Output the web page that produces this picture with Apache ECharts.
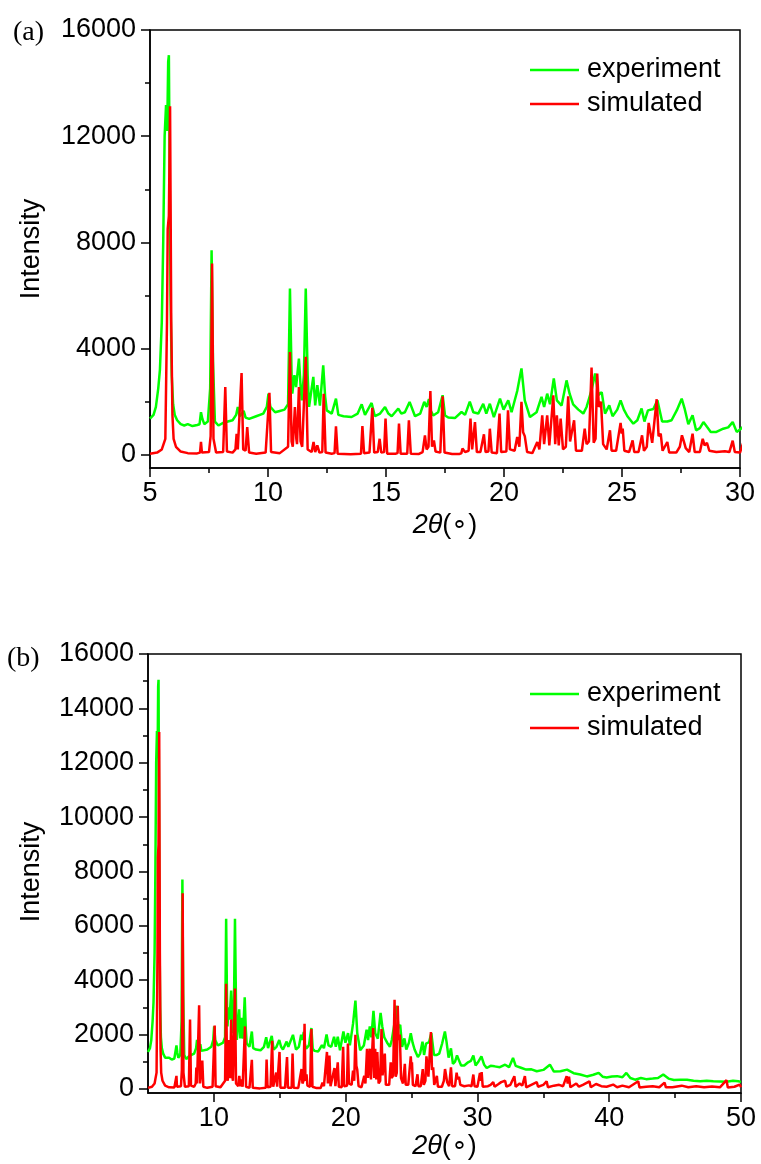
<!DOCTYPE html>
<html>
<head>
<meta charset="utf-8">
<script src="https://cdn.jsdelivr.net/npm/echarts@6/dist/echarts.min.js"></script>
<style>
html,body{margin:0;padding:0;background:#fff;}
#chart{width:761px;height:1164px;}
</style>
</head>
<body>
<div id="chart"></div>
<script>
// ---- Data ----
const seriesNames = ['experiment', 'simulated'];
const panelLabels = ['(a)', '(b)'];

const expX = [5.0,5.15,5.25,5.35,5.42,5.5,5.56,5.62,5.68,5.73,5.77,5.8,5.83,5.87,5.92,5.98,6.05,6.15,6.3,6.45,6.6,6.8,7.0,7.1,7.16,7.22,7.3,7.45,7.55,7.61,7.67,7.75,7.9,8.1,8.3,8.5,8.65,8.72,8.8,8.9,8.97,9.05,9.2,9.5,9.8,9.95,10.02,10.1,10.3,10.5,10.7,10.85,10.93,11.0,11.03,11.12,11.19,11.31,11.38,11.43,11.52,11.6,11.68,11.74,11.85,11.92,12.0,12.09,12.2,12.34,12.42,12.49,12.7,12.88,12.98,13.2,13.54,13.8,13.97,14.11,14.39,14.53,14.75,14.96,15.1,15.24,15.52,15.65,15.8,16.0,16.23,16.45,16.62,16.72,16.82,16.9,17.0,17.21,17.4,17.5,17.64,17.92,18.2,18.35,18.55,18.7,18.91,19.12,19.25,19.4,19.57,19.83,19.98,20.18,20.32,20.56,20.74,20.88,21.1,21.38,21.59,21.7,21.83,21.95,22.11,22.24,22.44,22.65,22.78,22.93,23.15,23.36,23.5,23.71,23.86,24.0,24.14,24.28,24.46,24.6,24.8,24.94,25.08,25.23,25.48,25.65,25.83,25.95,26.1,26.33,26.5,26.7,26.92,27.1,27.32,27.53,27.65,27.81,27.99,28.14,28.3,28.45,28.6,28.76,29.0,29.29,29.5,29.69,29.86,30.04,30.3,30.5,30.7,31.0,31.3,31.7,32.1,32.4,32.7,32.9,33.3,33.7,34.1,34.5,35.0,35.5,35.8,36.3,36.8,37.3,37.8,38.3,38.8,39.2,39.5,39.8,40.2,40.6,41.0,41.3,41.6,41.96,42.4,42.8,43.3,43.7,44.1,44.5,44.9,45.4,45.9,46.4,46.9,47.4,47.9,48.4,48.9,49.4,49.8,50.0];
const expY = [1360,1500,1800,2500,3200,5000,8000,12000,13170,12200,14800,15050,11000,6000,3000,1900,1500,1300,1150,1100,1150,1080,1120,1150,1600,1350,1150,1250,2500,7700,3500,1250,1100,1200,1250,1300,1500,1800,1450,1550,1650,1400,1350,1450,1550,1800,2300,1800,1600,1650,1700,1900,6260,3000,2300,3000,2550,3620,2600,2050,3000,6260,3000,1800,2500,2930,1860,2620,1850,3370,2200,1670,1550,2110,1500,1450,1420,1550,1900,1500,1950,1450,1550,1800,1550,1450,1740,1550,1600,1990,1450,1550,1990,1800,2100,1650,1480,1600,2240,1480,1400,1380,1610,1500,2000,1600,1550,1920,1550,1920,1420,2110,1700,2050,1600,2400,3250,2050,1420,1600,2180,1800,2300,1900,2870,2050,1850,2800,2300,1900,1700,1550,1800,2430,3060,2250,2360,1550,1860,1450,1700,2050,1700,1450,1170,1300,1740,1250,1670,1720,2050,1250,1250,1300,1670,2110,1750,1150,1490,920,1000,1230,1050,860,860,980,1030,1230,860,980,1200,900,770,850,830,800,890,800,1140,850,780,710,720,650,700,890,640,650,710,580,530,460,520,590,450,420,460,470,430,590,400,340,400,360,380,400,530,380,330,340,340,300,280,300,280,270,260,300,280,260];

const simX = [5.0,5.3,5.5,5.65,5.72,5.75,5.8,5.85,5.9,5.95,6.0,6.1,6.3,6.6,7.0,7.12,7.16,7.2,7.5,7.57,7.63,7.69,7.8,8.1,8.19,8.26,8.5,8.62,8.67,8.72,8.8,8.88,8.95,9.05,9.12,9.2,9.5,9.9,10.06,10.13,10.5,10.85,10.93,11.0,11.05,11.14,11.2,11.23,11.31,11.38,11.45,11.6,11.68,11.85,11.93,12.0,12.09,12.18,12.3,12.36,12.44,12.7,12.82,12.88,12.95,13.5,13.94,14.0,14.07,14.3,14.36,14.42,14.5,14.65,14.73,14.8,14.92,14.98,15.05,15.4,15.49,15.55,15.62,15.9,15.97,16.05,16.4,16.55,16.65,16.72,16.8,16.88,16.95,17.03,17.1,17.3,17.34,17.4,17.48,17.8,18.1,18.19,18.24,18.35,18.5,18.58,18.65,18.77,18.85,19.0,19.15,19.22,19.34,19.4,19.48,19.7,19.75,19.81,19.88,20.1,20.17,20.25,20.45,20.56,20.65,20.74,20.81,20.88,20.98,21.2,21.41,21.5,21.62,21.7,21.83,21.92,22.09,22.17,22.24,22.32,22.4,22.5,22.62,22.72,22.8,22.97,23.05,23.3,23.42,23.5,23.6,23.71,23.8,23.88,23.95,24.02,24.11,24.2,24.35,24.49,24.56,24.75,24.94,24.99,25.03,25.1,25.3,25.45,25.52,25.7,25.85,25.93,26.05,26.13,26.19,26.28,26.35,26.47,26.55,26.64,26.72,26.92,27.0,27.3,27.45,27.54,27.62,27.7,27.85,27.99,28.08,28.3,28.42,28.5,28.6,28.7,29.0,29.36,29.55,29.69,29.78,30.0,30.19,30.25,30.32,30.4,30.8,31.0,31.2,31.3,31.6,31.8,32.1,32.2,32.5,32.8,32.9,33.2,33.4,33.6,33.7,34.2,34.5,34.6,35.0,35.25,35.35,35.8,36.2,36.5,36.77,36.85,36.95,37.05,37.5,37.7,38.0,38.5,38.6,39.0,39.4,39.8,40.3,40.6,41.0,41.5,42.2,42.3,42.8,43.3,43.8,44.2,44.3,44.8,45.5,46.0,46.6,47.2,47.8,48.4,48.9,49.0,49.5,49.9,50.0];
const simY = [40,80,200,600,5000,8500,9000,13130,5000,1500,600,300,120,60,50,80,480,80,100,700,7200,600,80,100,2550,120,80,200,790,200,250,3080,200,150,1040,80,40,80,2330,100,60,300,3870,500,300,1800,600,400,2550,500,300,3690,200,100,480,100,350,80,100,2300,80,40,60,1070,40,20,40,1080,60,80,100,1770,80,100,600,80,100,1360,40,40,60,1170,40,40,1300,40,30,100,730,200,300,2400,300,540,120,80,100,2200,80,30,30,50,230,100,150,1360,200,1230,100,100,770,100,120,980,80,60,80,1550,100,120,1670,200,150,670,300,1990,850,700,100,60,480,200,1480,400,1480,350,2240,400,1480,350,1360,200,300,2200,500,1300,150,150,980,400,500,3280,450,600,3060,1800,2000,400,200,920,150,150,1200,800,980,150,100,540,100,100,730,150,300,1200,1150,450,500,2090,700,790,150,480,80,80,300,730,500,250,100,790,100,100,600,350,450,150,100,130,100,530,100,80,590,300,620,80,100,150,250,80,180,250,300,80,150,470,80,200,120,470,60,180,250,80,150,280,60,120,150,100,470,200,450,60,200,80,150,280,60,180,100,80,160,60,120,60,280,50,80,100,60,230,60,60,120,60,100,60,90,60,320,50,80,160,60];

// axis ticks / labels
const topYMajor = [0, 4000, 8000, 12000, 16000];
const topYMinor = [2000, 6000, 10000, 14000];
const topXMajor = [5, 10, 15, 20, 25, 30];
const topXMinor = [7.5, 12.5, 17.5, 22.5, 27.5];
const botYMajor = [0, 2000, 4000, 6000, 8000, 10000, 12000, 14000, 16000];
const botYMinor = [1000, 3000, 5000, 7000, 9000, 11000, 13000, 15000];
const botXMajor = [10, 20, 30, 40, 50];
const botXMinor = [15, 25, 35, 45];

const pairs = (xs, ys) => xs.map((x, i) => [x, ys[i]]);
const expData = pairs(expX, expY);
const simData = pairs(simX, simY);

const FONT = 'Liberation Sans, Arial, sans-serif';
const SERIF = 'Liberation Serif, Times New Roman, serif';
const GREEN = '#00ff00';
const RED = '#ff0000';
const FS = 27;

function mainAxis(dim, gridIndex, min, max, major) {
  return {
    type: 'value', gridIndex, min, max,
    position: dim === 'x' ? 'bottom' : 'left',
    axisLine: { show: true, onZero: false, lineStyle: { color: '#000', width: 1.5 } },
    axisTick: { show: true, customValues: major, length: 9, lineStyle: { color: '#000', width: 1.5 } },
    axisLabel: { show: true, customValues: major, color: '#000', fontSize: FS, fontFamily: FONT,
      margin: dim === 'x' ? 12 : 14, formatter: (v) => String(v) },
    splitLine: { show: false }
  };
}
function minorAxis(dim, gridIndex, min, max, minor) {
  return {
    type: 'value', gridIndex, min, max,
    position: dim === 'x' ? 'bottom' : 'left',
    axisLine: { show: false, onZero: false },
    axisTick: { show: true, customValues: minor, length: 5, lineStyle: { color: '#000', width: 1.5 } },
    axisLabel: { show: false },
    splitLine: { show: false }
  };
}

const xName = {
  name: '{i|2θ}{n|(∘)}',
  nameLocation: 'middle',
  nameTextStyle: {
    rich: {
      i: { fontSize: FS, fontStyle: 'italic', fontFamily: FONT, color: '#000' },
      n: { fontSize: FS, fontFamily: FONT, color: '#000' }
    }
  }
};

const xTop = Object.assign(mainAxis('x', 0, 5, 30, topXMajor), xName, { nameGap: 44 });
const xBot = Object.assign(mainAxis('x', 1, 5, 50, botXMajor), xName, { nameGap: 40 });

const lineSeries = (name, data, color, xi, yi) => ({
  name, type: 'line', data, xAxisIndex: xi, yAxisIndex: yi,
  symbol: 'none', showSymbol: false, animation: false,
  lineStyle: { color, width: 2.5 }, itemStyle: { color },
  clip: true
});

const legendCfg = (top) => ({
  left: 530, top, orient: 'vertical', padding: 0,
  data: seriesNames.map((n) => ({ name: n, icon: 'rect' })),
  itemWidth: 49, itemHeight: 2.5, itemGap: 6,
  textStyle: { fontSize: FS, lineHeight: 28, fontFamily: FONT, color: '#000', padding: [0, 0, 0, 3] },
  selectedMode: false
});

const option = {
  animation: false,
  backgroundColor: '#fff',
  grid: [
    { left: 150, right: 21, top: 30, bottom: 696, show: true, borderColor: '#000', borderWidth: 1.5, containLabel: false },
    { left: 148, right: 20, top: 654, bottom: 71, show: true, borderColor: '#000', borderWidth: 1.5, containLabel: false }
  ],
  xAxis: [
    xTop, xBot,
    minorAxis('x', 0, 5, 30, topXMinor),
    minorAxis('x', 1, 5, 50, botXMinor)
  ],
  yAxis: [
    mainAxis('y', 0, -500, 16000, topYMajor),
    mainAxis('y', 1, -150, 16000, botYMajor),
    minorAxis('y', 0, -500, 16000, topYMinor),
    minorAxis('y', 1, -150, 16000, botYMinor)
  ],
  legend: [legendCfg(56), legendCfg(680)],
  series: [
    lineSeries(seriesNames[0], expData, GREEN, 0, 0),
    lineSeries(seriesNames[1], simData, RED, 0, 0),
    lineSeries(seriesNames[0], expData, GREEN, 1, 1),
    lineSeries(seriesNames[1], simData, RED, 1, 1)
  ],
  graphic: [
    { type: 'text', left: 13, top: 19, style: { text: panelLabels[0], fontSize: 28, fontFamily: SERIF, fill: '#000' } },
    { type: 'text', left: 7, top: 645, style: { text: panelLabels[1], fontSize: 28, fontFamily: SERIF, fill: '#000' } },
    { type: 'text', x: 32, y: 249, rotation: Math.PI / 2, style: { text: 'Intensity', fontSize: FS, fontFamily: FONT, fill: '#000', align: 'center', verticalAlign: 'middle' } },
    { type: 'text', x: 32, y: 872, rotation: Math.PI / 2, style: { text: 'Intensity', fontSize: FS, fontFamily: FONT, fill: '#000', align: 'center', verticalAlign: 'middle' } }
  ]
};

const chart = echarts.init(document.getElementById('chart'), null, { renderer: 'canvas' });
chart.setOption(option);
</script>
</body>
</html>
